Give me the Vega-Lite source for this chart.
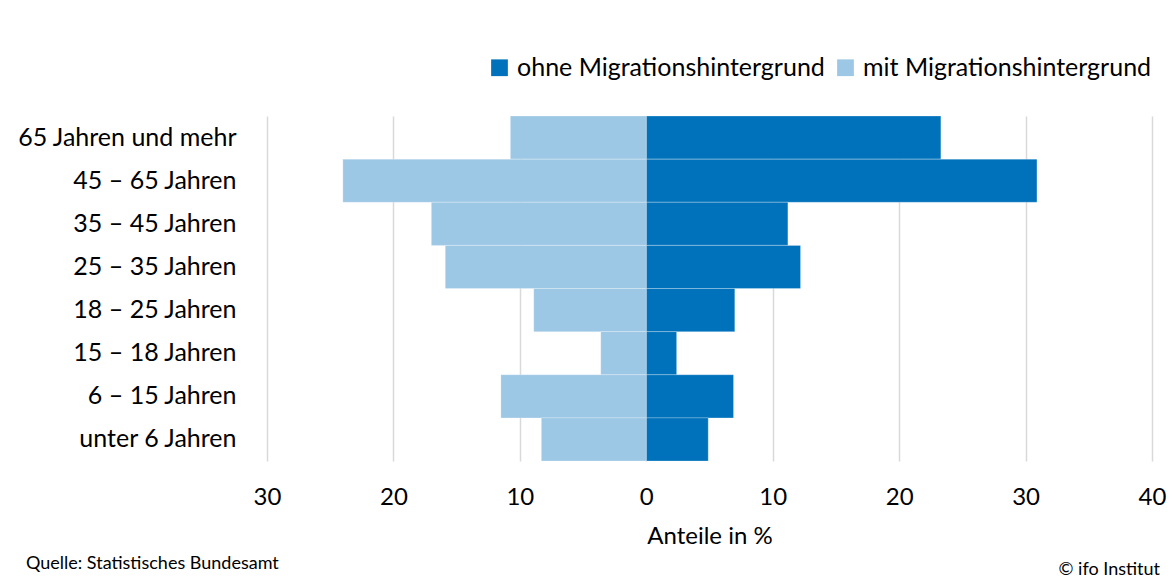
{
  "$schema": "https://vega.github.io/schema/vega-lite/v6.json",
  "width": 885,
  "height": 345,
  "autosize": {"type": "none"},
  "padding": {"left": 267, "right": 17, "top": 116, "bottom": 120},
  "background": "white",
  "config": {
    "font": "Lato",
    "view": {"stroke": null},
    "text": {"font": "Lato"}
  },
  "title": {
    "text": "Quelle: Statistisches Bundesamt",
    "orient": "bottom",
    "anchor": "start",
    "frame": "bounds",
    "dx": 9,
    "offset": -24,
    "fontSize": 18,
    "fontWeight": "normal",
    "color": "#000000",
    "font": "Lato"
  },
  "data": {
    "values": [
      {"Alter": "65 Jahren und mehr", "Gruppe": "ohne Migrationshintergrund", "Anteil": 23.3},
      {"Alter": "45 – 65 Jahren", "Gruppe": "ohne Migrationshintergrund", "Anteil": 30.9},
      {"Alter": "35 – 45 Jahren", "Gruppe": "ohne Migrationshintergrund", "Anteil": 11.2},
      {"Alter": "25 – 35 Jahren", "Gruppe": "ohne Migrationshintergrund", "Anteil": 12.2},
      {"Alter": "18 – 25 Jahren", "Gruppe": "ohne Migrationshintergrund", "Anteil": 7.0},
      {"Alter": "15 – 18 Jahren", "Gruppe": "ohne Migrationshintergrund", "Anteil": 2.4},
      {"Alter": "6 – 15 Jahren", "Gruppe": "ohne Migrationshintergrund", "Anteil": 6.9},
      {"Alter": "unter 6 Jahren", "Gruppe": "ohne Migrationshintergrund", "Anteil": 4.9},
      {"Alter": "65 Jahren und mehr", "Gruppe": "mit Migrationshintergrund", "Anteil": -10.75},
      {"Alter": "45 – 65 Jahren", "Gruppe": "mit Migrationshintergrund", "Anteil": -24.0},
      {"Alter": "35 – 45 Jahren", "Gruppe": "mit Migrationshintergrund", "Anteil": -17.0},
      {"Alter": "25 – 35 Jahren", "Gruppe": "mit Migrationshintergrund", "Anteil": -15.9},
      {"Alter": "18 – 25 Jahren", "Gruppe": "mit Migrationshintergrund", "Anteil": -8.9},
      {"Alter": "15 – 18 Jahren", "Gruppe": "mit Migrationshintergrund", "Anteil": -3.6},
      {"Alter": "6 – 15 Jahren", "Gruppe": "mit Migrationshintergrund", "Anteil": -11.5},
      {"Alter": "unter 6 Jahren", "Gruppe": "mit Migrationshintergrund", "Anteil": -8.3}
    ]
  },
  "layer": [
    {
      "mark": {"type": "bar", "stroke": "white", "strokeWidth": 0.5, "strokeOpacity": 0.5},
      "encoding": {
        "y": {
          "field": "Alter",
          "type": "nominal",
          "sort": ["65 Jahren und mehr", "45 – 65 Jahren", "35 – 45 Jahren", "25 – 35 Jahren", "18 – 25 Jahren", "15 – 18 Jahren", "6 – 15 Jahren", "unter 6 Jahren"],
          "scale": {"paddingInner": 0, "paddingOuter": 0},
          "axis": {
            "title": null,
            "domain": false,
            "ticks": false,
            "grid": false,
            "labelFontSize": 25,
            "labelColor": "#000000",
            "labelPadding": 31,
            "labelFont": "Lato",
            "labelLimit": 400
          }
        },
        "x": {
          "field": "Anteil",
          "type": "quantitative",
          "stack": null,
          "scale": {"domain": [-30, 40], "nice": false},
          "axis": {
            "title": "Anteile in %",
            "values": [-30, -20, -10, 0, 10, 20, 30, 40],
            "labelExpr": "abs(datum.value)",
            "labelFlush": false,
            "domain": false,
            "ticks": false,
            "grid": true,
            "gridColor": "#d9d9d9",
            "gridWidth": 1.5,
            "labelFontSize": 24,
            "labelColor": "#000000",
            "labelPadding": 24,
            "labelFont": "Lato",
            "titleFontSize": 24,
            "titleFontWeight": "normal",
            "titleColor": "#000000",
            "titleFont": "Lato",
            "titlePadding": 15
          }
        },
        "color": {
          "field": "Gruppe",
          "type": "nominal",
          "scale": {
            "domain": ["ohne Migrationshintergrund", "mit Migrationshintergrund"],
            "range": ["#0072BB", "#9CC7E5"]
          },
          "legend": {
            "title": null,
            "orient": "none",
            "legendX": 220,
            "legendY": -61,
            "direction": "horizontal",
            "symbolType": "square",
            "symbolSize": 280,
            "symbolStrokeWidth": 0,
            "symbolOpacity": 1,
            "labelFontSize": 25,
            "labelColor": "#000000",
            "labelFont": "Lato",
            "labelOffset": 5,
            "columnPadding": 8,
            "labelLimit": 400
          }
        }
      }
    },
    {
      "data": {"values": [{"Hinweis": "© ifo Institut", "Pos": 40}]},
      "mark": {"type": "text", "align": "right", "baseline": "middle", "dx": 8, "y": 454, "fontSize": 18, "color": "#000000", "font": "Lato"},
      "encoding": {
        "x": {"field": "Pos", "type": "quantitative"},
        "text": {"field": "Hinweis"}
      }
    }
  ]
}
